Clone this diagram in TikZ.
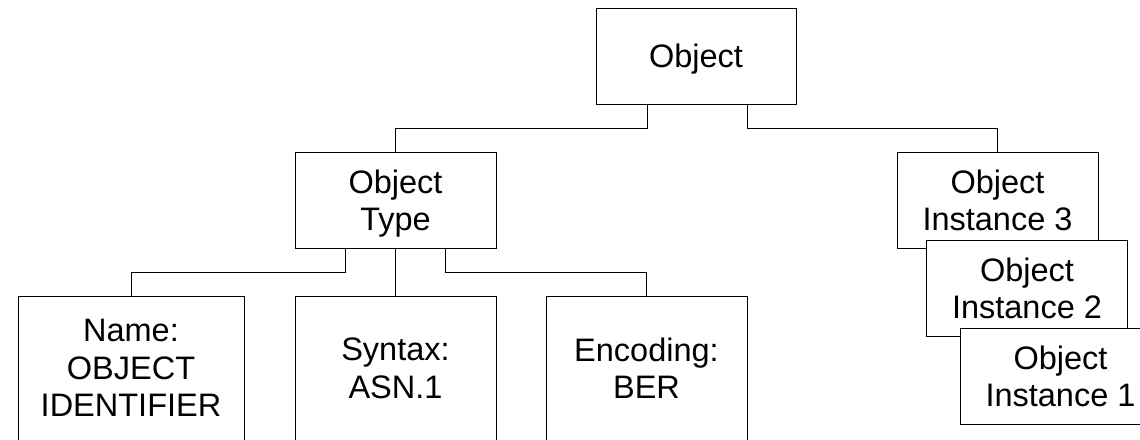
\documentclass[tikz,border=0pt]{standalone}
\usepackage{fontspec}
\setmainfont{Liberation Sans}
\begin{document}
\begin{tikzpicture}[x=1pt,y=-1pt,
  box/.style={draw=black, line width=1pt, fill=white, rectangle, inner sep=0pt,
    align=center, font=\fontsize{32.5}{37.5}\selectfont, text depth=0pt},
  conn/.style={draw=black, line width=1pt}]
\useasboundingbox (0,0) rectangle (1140,439);
\node[box, minimum width=200pt, minimum height=96pt] (obj) at (696,56) {Object};
\node[box, minimum width=201pt, minimum height=96pt] (otype) at (395.5,200) {Object\\Type};
\node[box, minimum width=226pt, minimum height=144pt] (name) at (131,368) {Name:\\OBJECT\\IDENTIFIER};
\node[box, minimum width=201pt, minimum height=144pt] (syntax) at (395.5,368) {Syntax:\\ASN.1};
\node[box, minimum width=201pt, minimum height=144pt] (enc) at (646.5,368) {Encoding:\\BER};
\node[box, minimum width=201pt, minimum height=96pt] (inst3) at (997.5,200) {Object\\Instance 3};
\node[box, minimum width=201pt, minimum height=96pt] (inst2) at (1027,288) {Object\\Instance 2};
\node[box, minimum width=201pt, minimum height=96pt] (inst1) at (1060.5,376) {Object\\Instance 1};
\draw[conn] ([xshift=-49pt]obj.south) -- ++(0,24) -| (otype.north);
\draw[conn] ([xshift=51pt]obj.south) -- ++(0,24) -| (inst3.north);
\draw[conn] ([xshift=-50pt]otype.south) -- ++(0,24) -| (name.north);
\draw[conn] (otype.south) -- (syntax.north);
\draw[conn] ([xshift=50pt]otype.south) -- ++(0,24) -| (enc.north);
\end{tikzpicture}
\end{document}
